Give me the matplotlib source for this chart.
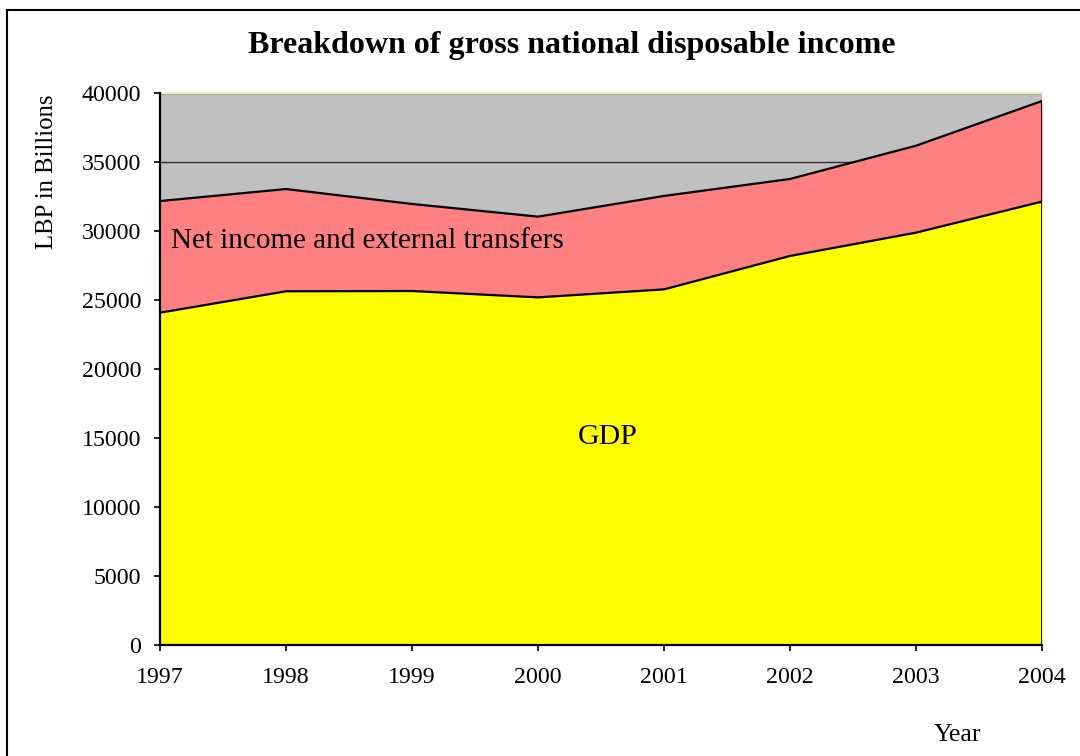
import matplotlib
matplotlib.use("Agg")
import matplotlib.pyplot as plt
from matplotlib.patches import Rectangle

years = [1997, 1998, 1999, 2000, 2001, 2002, 2003, 2004]
gdp = [24080, 25630, 25650, 25190, 25770, 28190, 29880, 32130]
total_income = [32170, 33040, 31960, 31040, 32540, 33770, 36180, 39420]
y_ticks = [0, 5000, 10000, 15000, 20000, 25000, 30000, 35000, 40000]

plt.rcParams['font.family'] = ['Liberation Serif', 'DejaVu Serif']

fig = plt.figure(figsize=(10.8, 7.56), dpi=100)
ax = fig.add_axes([160/1080, 1-645/756, (1042-160)/1080, (645-93)/756])

ax.set_facecolor('#C0C0C0')
ax.fill_between(years, 0, gdp, color='#FFFF00', zorder=2, linewidth=0)
ax.fill_between(years, gdp, total_income, color='#FF8080', zorder=2, linewidth=0)
ax.plot(years, gdp, color='black', lw=1.6, zorder=3)
ax.plot(years, total_income, color='black', lw=1.6, zorder=3)
ax.plot([years[-1], years[-1]], [0, total_income[-1]], color='black', lw=2, zorder=3)

ax.set_xlim(years[0], years[-1])
ax.set_ylim(0, 40000)
ax.set_yticks(y_ticks)
ax.set_xticks(years)
ax.set_yticklabels([str(v) for v in y_ticks])
ax.set_xticklabels([str(v) for v in years])
ax.yaxis.grid(True, color='#303030', lw=1)
ax.set_axisbelow(True)
ax.tick_params(axis='both', direction='out', length=4.5, width=1.2, labelsize=17.2, color='black')
ax.tick_params(axis='x', pad=11.5)
ax.tick_params(axis='y', pad=9)

for s in ['top', 'right']:
    ax.spines[s].set_visible(False)
ax.spines['left'].set_linewidth(1.6)
ax.spines['bottom'].set_linewidth(1.6)
ax.spines['left'].set_zorder(4)
ax.spines['bottom'].set_zorder(4)
ax.plot([years[0], years[-1]], [40000, 40000], color='#F2F2C0', lw=1.5, zorder=1, clip_on=False)

fig.text(572/1080, 1-45/756, 'Breakdown of gross national disposable income',
         ha='center', va='center', fontsize=23, fontweight='bold')
ax.text(1997.09, 29250, 'Net income and external transfers', fontsize=21, ha='left', va='center', zorder=5)
ax.text(2000.55, 15080, 'GDP', fontsize=21.5, ha='center', va='center', zorder=5)
fig.text(47/1080, 1-172/756, 'LBP in Billions', rotation=90, ha='center', va='center', fontsize=17.8)
fig.text(957/1080, 1-735/756, 'Year', ha='center', va='center', fontsize=18.5)

fig.add_artist(Rectangle((7/1080, -0.05), 1.2, 1-10/756+0.05, transform=fig.transFigure,
                         fill=False, edgecolor='black', lw=1.5))

fig.savefig('out.png', dpi=100)
